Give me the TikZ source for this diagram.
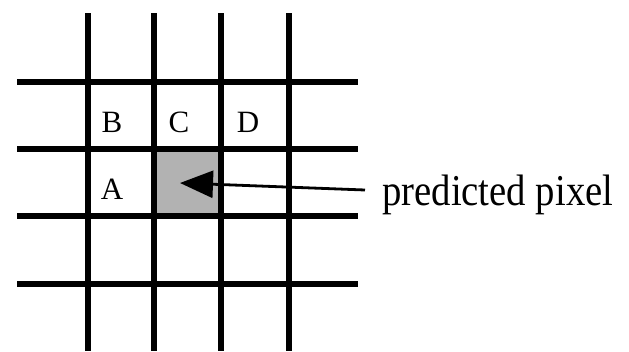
\documentclass[tikz,border=0pt]{standalone}
\usepackage{fontspec}
\setmainfont{Liberation Serif}
\usetikzlibrary{arrows.meta}
\tikzset{
  gridline/.style={line width=5.2pt, black},
  letter/.style={font=\fontsize{31}{31}\selectfont, inner sep=0pt},
  ptr/.style={line width=2.8pt, -{Triangle[length=33pt,width=27pt]}}
}
\begin{document}
\begin{tikzpicture}[x=1pt,y=-1pt]
\useasboundingbox (0,0) rectangle (629,351);
% grey predicted cell
\node[fill=black!30, minimum width=67pt, minimum height=67pt, inner sep=0pt, draw=none] (cell) at (187.5,182.5) {};
% vertical lines
\foreach \x in {88,154,221,289}
  \draw[gridline] (\x,13) -- (\x,351);
% horizontal lines
\foreach \y in {82,149,216,284}
  \draw[gridline] (17,\y) -- (358,\y);
% letters
\node[letter] (B) at (112,122) {B};
\node[letter] (C) at (179,122) {C};
\node[letter] (D) at (248,122) {D};
\node[letter] (A) at (112,189) {A};
% label
\node[anchor=base west, inner sep=0pt] (lbl) at (382,205)
  {\scalebox{0.88}[1]{\fontsize{44}{44}\selectfont predicted pixel}};
\coordinate (start) at (365,190);
\coordinate (tip) at (180,183);
\draw[ptr] (start) -- (tip);
\end{tikzpicture}
\end{document}
